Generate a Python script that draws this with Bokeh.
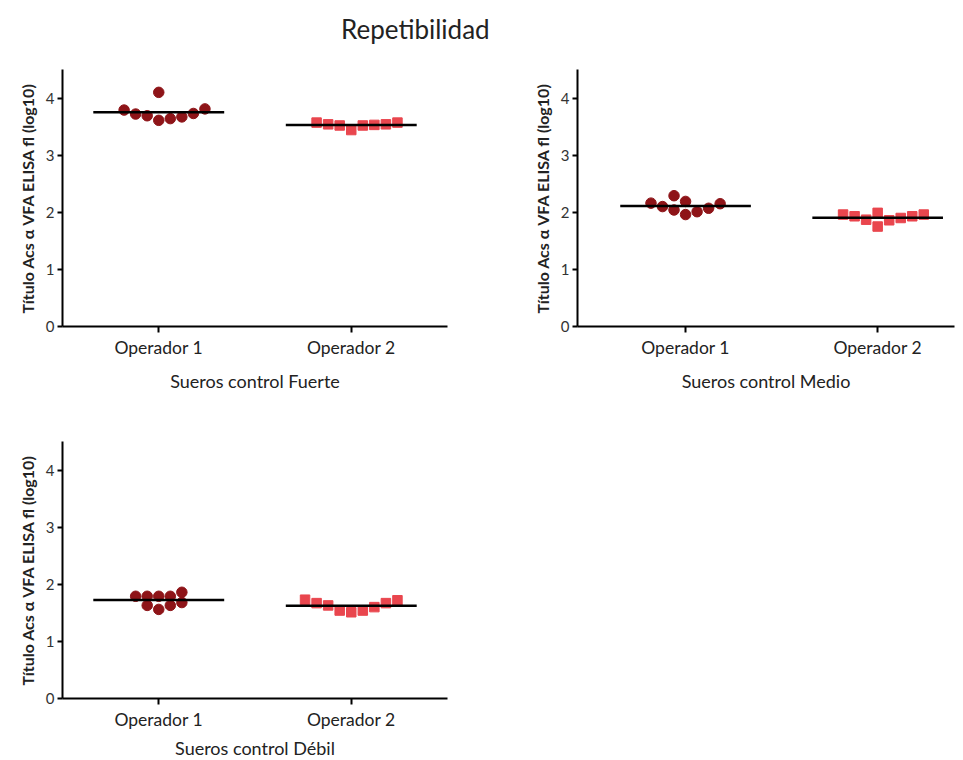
from bokeh.plotting import figure
from bokeh.layouts import column, row
from bokeh.models import Div, FixedTicker, Range1d
from bokeh.embed import file_html
from bokeh.resources import INLINE
import numpy as np

# ---------------- data ----------------
chart_title = "Repetibilidad"
operators = ["Operador 1", "Operador 2"]
panel_labels = ["Sueros control Fuerte", "Sueros control Medio", "Sueros control Débil"]
y_label = "Título Acs α VFA ELISA fl (log10)"
y_ticks = [0, 1, 2, 3, 4]

# values (log10 titre), left-to-right as drawn, with their beeswarm column
fuerte_op1 = [3.79, 3.72, 3.69, 4.10, 3.61, 3.64, 3.67, 3.73, 3.81]
fuerte_op1_col = [-3, -2, -1, 0, 0, 1, 2, 3, 4]
fuerte_op2 = [3.57, 3.54, 3.52, 3.44, 3.52, 3.53, 3.54, 3.57]
fuerte_op2_col = [-3, -2, -1, 0, 1, 2, 3, 4]

medio_op1 = [2.16, 2.10, 2.29, 2.04, 2.19, 1.96, 2.01, 2.07, 2.15]
medio_op1_col = [-3, -2, -1, -1, 0, 0, 1, 2, 3]
medio_op2 = [1.96, 1.93, 1.87, 1.99, 1.75, 1.86, 1.90, 1.93, 1.96]
medio_op2_col = [-3, -2, -1, 0, 0, 1, 2, 3, 4]

debil_op1 = [1.79, 1.79, 1.63, 1.79, 1.56, 1.79, 1.63, 1.86, 1.68]
debil_op1_col = [-2, -1, -1, 0, 0, 1, 1, 2, 2]
debil_op2 = [1.73, 1.67, 1.63, 1.54, 1.51, 1.54, 1.60, 1.67, 1.72]
debil_op2_col = [-4, -3, -2, -1, 0, 1, 2, 3, 4]

# ---------------- style ----------------
FONT = "Lato"
CIRCLE_COLOR = "#8e1418"
SQUARE_COLOR = "#e9464e"
COL_STEP = 0.06     # beeswarm column spacing (x units)
MEAN_HALF = 0.34    # half-length of mean line (x units)


def make_panel(xlabel, op1, op1_col, op2, op2_col, x_start, x_end,
               left, right, top, bottom, fw, fh=257, label_standoff=9):
    p = figure(frame_width=fw, frame_height=fh,
               min_border_left=left, min_border_right=right,
               min_border_top=top, min_border_bottom=bottom,
               x_range=Range1d(x_start, x_end), y_range=Range1d(0, 4.5),
               output_backend="svg", toolbar_location=None)
    p.outline_line_color = None
    p.xgrid.visible = False
    p.ygrid.visible = False
    p.background_fill_color = "white"
    p.border_fill_color = "white"

    for i, (vals, cols, marker, color) in enumerate(
            [(op1, op1_col, "circle", CIRCLE_COLOR),
             (op2, op2_col, "square", SQUARE_COLOR)]):
        cat = i + 1
        xs = [cat + c * COL_STEP for c in cols]
        p.scatter(xs, vals, marker=marker, size=10.5 if marker == "circle" else 9.5,
                  fill_color=color, line_color=color)
        m = float(np.mean(vals))
        p.segment(x0=[cat - MEAN_HALF], y0=[m], x1=[cat + MEAN_HALF], y1=[m],
                  line_color="black", line_width=2.5)

    xa = p.xaxis[0]
    xa.ticker = FixedTicker(ticks=[1, 2])
    xa.major_label_overrides = {1: operators[0], 2: operators[1]}
    xa.minor_tick_line_color = None
    xa.major_tick_out = 6
    xa.major_tick_in = 0
    xa.axis_line_width = 2
    xa.major_tick_line_width = 2
    xa.axis_line_color = "black"
    xa.major_tick_line_color = "black"
    xa.major_label_text_font = FONT
    xa.major_label_text_font_size = "17.5px"
    xa.major_label_text_color = "#222222"
    xa.major_label_standoff = 4
    xa.axis_label = xlabel
    xa.axis_label_text_font = FONT
    xa.axis_label_text_font_size = "18px"
    xa.axis_label_text_font_style = "normal"
    xa.axis_label_text_color = "#222222"
    xa.axis_label_standoff = label_standoff

    ya = p.yaxis[0]
    ya.ticker = FixedTicker(ticks=y_ticks)
    ya.minor_tick_line_color = None
    ya.major_tick_out = 5
    ya.major_tick_in = 0
    ya.axis_line_width = 2
    ya.major_tick_line_width = 2
    ya.axis_line_color = "black"
    ya.major_tick_line_color = "black"
    ya.major_label_text_font = FONT
    ya.major_label_text_font_size = "15px"
    ya.major_label_text_color = "#333333"
    ya.major_label_standoff = 3
    ya.axis_label = y_label
    ya.axis_label_text_font = FONT
    ya.axis_label_text_font_size = "16px"
    ya.axis_label_text_font_style = "bold"
    ya.axis_label_text_color = "#222222"
    ya.axis_label_standoff = 6
    return p


p1 = make_panel(panel_labels[0], fuerte_op1, fuerte_op1_col, fuerte_op2, fuerte_op2_col,
                0.5, 2.5, left=62, right=33, top=19, bottom=96, fw=385)
p2 = make_panel(panel_labels[1], medio_op1, medio_op1_col, medio_op2, medio_op2_col,
                0.4375, 2.4, left=97, right=5, top=19, bottom=96, fw=377)
p3 = make_panel(panel_labels[2], debil_op1, debil_op1_col, debil_op2, debil_op2_col,
                0.5, 2.5, left=62, right=33, top=19, bottom=60, fw=385,
                label_standoff=4)

title = Div(text=chart_title, width=963, height=50, margin=(0, 0, 0, 0),
            styles={"font-family": FONT, "font-size": "26px", "color": "#222222",
                    "padding-left": "341px", "padding-top": "11px",
                    "box-sizing": "border-box"})

layout = column(title, row(p1, p2), p3, spacing=0)

html = file_html(layout, INLINE, title=chart_title)
open("out.html", "w").write(html)
